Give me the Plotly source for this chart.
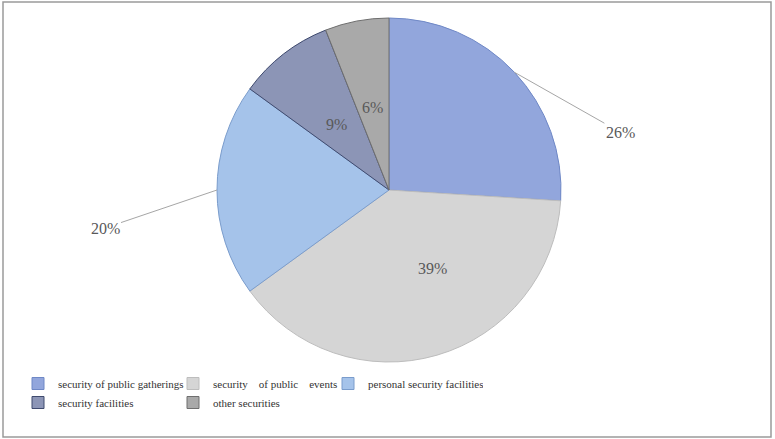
import math
import plotly.graph_objects as go

labels = [
    "security of public gatherings",
    "security\u00a0\u00a0\u00a0\u00a0of public\u00a0\u00a0\u00a0\u00a0events",
    "personal security facilities",
    "security facilities",
    "other securities",
]
values = [26, 39, 20, 9, 6]
colors = ["#92a6dc", "#d5d5d5", "#a5c3ea", "#8c95b6", "#a9a9a9"]
edge_colors = ["#6f88c6", "#bdbdbd", "#7a9ccc", "#3f4a6e", "#6f6f6f"]

W, H = 775, 439
ML, MR = 15, 200  # side margins keep the legend to three entries per row
PW = W - ML - MR
cx, cy, r = 389, 190, 172
SERIF = "Liberation Serif, Times New Roman, serif"


def px_x(x):
    return (x - ML) / PW


def px_y(y):
    return 1 - y / H


fig = go.Figure(
    go.Pie(
        labels=labels,
        values=values,
        sort=False,
        direction="clockwise",
        rotation=0,
        marker=dict(colors=colors, line=dict(color=edge_colors, width=1)),
        textinfo="none",
        domain=dict(x=[px_x(cx - r), px_x(cx + r)], y=[px_y(cy + r), px_y(cy - r)]),
        hoverinfo="label+percent",
    )
)

# percentage labels: outside with leader lines for 26% and 20%, inside for the rest
outside = {0: (106, 60), 2: (-112, 38)}
inside_nudge = {1: (36, -4), 3: (0, -8), 4: (0, -9)}
label_font = dict(family=SERIF, size=16, color="#595959")
total = sum(values)
cum = 0
for i, v in enumerate(values):
    mid = (cum + v / 2) / total * 2 * math.pi
    cum += v
    txt = f"{round(v / total * 100)}%"
    if i in outside:
        ex = cx + r * math.sin(mid)
        ey = cy - r * math.cos(mid)
        ax, ay = outside[i]
        fig.add_annotation(
            x=px_x(ex), y=px_y(ey), xref="paper", yref="paper", text=txt,
            showarrow=True, arrowhead=0, arrowwidth=1, arrowcolor="#a6a6a6",
            ax=ax, ay=ay, font=label_font,
        )
    else:
        dx, dy = inside_nudge[i]
        lx = cx + 0.5 * r * math.sin(mid) + dx
        ly = cy - 0.5 * r * math.cos(mid) + dy
        fig.add_annotation(
            x=px_x(lx), y=px_y(ly), xref="paper", yref="paper", text=txt,
            showarrow=False, font=label_font,
        )

fig.add_shape(
    type="rect", xref="paper", yref="paper",
    x0=px_x(3), x1=px_x(771), y0=px_y(437), y1=px_y(2),
    line=dict(color="#9a9a9a", width=1.5),
)

fig.update_layout(
    width=W,
    height=H,
    margin=dict(l=ML, r=MR, t=0, b=0),
    paper_bgcolor="white",
    plot_bgcolor="white",
    showlegend=True,
    legend=dict(
        orientation="h",
        x=px_x(18),
        y=px_y(369),
        xanchor="left",
        yanchor="top",
        entrywidth=110,
        entrywidthmode="pixels",
        font=dict(family=SERIF, size=11, color="#333333"),
        traceorder="normal",
    ),
)

fig.write_html(
    "out.html",
    config={"displayModeBar": False},
    post_script="document.body.style.margin='0';",
)
